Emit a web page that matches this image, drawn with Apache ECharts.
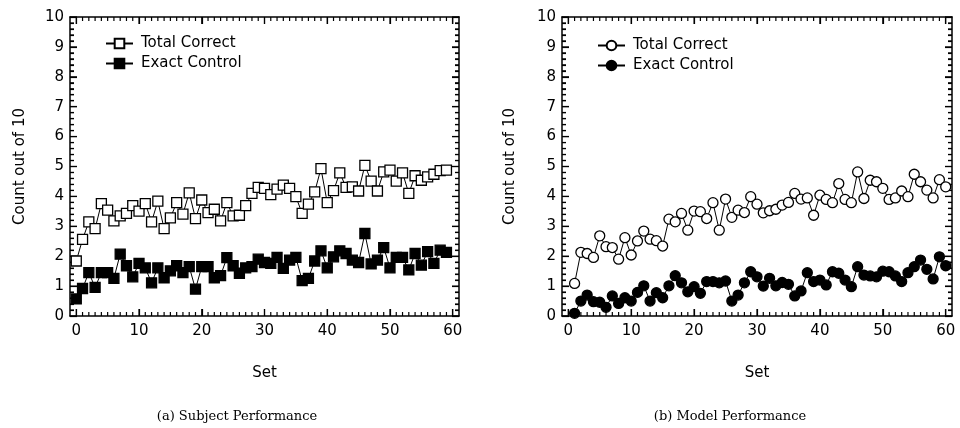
<!DOCTYPE html>
<html><head><meta charset="utf-8">
<script src="https://cdn.jsdelivr.net/npm/echarts@6/dist/echarts.min.js"></script>
<style>html,body{margin:0;padding:0;background:#fff}#c{width:960px;height:428px}</style>
</head><body><div id="c"></div>
<script>
const leftSets = [0,1,2,3,4,5,6,7,8,9,10,11,12,13,14,15,16,17,18,19,20,21,22,23,24,25,26,27,28,29,30,31,32,33,34,35,36,37,38,39,40,41,42,43,44,45,46,47,48,49,50,51,52,53,54,55,56,57,58,59];
const leftTotal = [1.84,2.56,3.15,2.92,3.76,3.54,3.18,3.35,3.43,3.69,
  3.51,3.76,3.15,3.84,2.92,3.28,3.79,3.41,4.12,3.26,
  3.88,3.46,3.57,3.18,3.79,3.35,3.37,3.69,4.10,4.30,
  4.27,4.06,4.24,4.38,4.27,3.99,3.43,3.74,4.15,4.93,
  3.79,4.19,4.79,4.30,4.32,4.18,5.04,4.51,4.18,4.82,
  4.88,4.51,4.79,4.10,4.69,4.54,4.65,4.74,4.86,4.88];
const leftExact = [0.57,0.92,1.45,0.96,1.45,1.45,1.26,2.07,1.68,1.31,
  1.76,1.61,1.11,1.61,1.28,1.51,1.68,1.45,1.65,0.90,
  1.65,1.65,1.28,1.35,1.95,1.68,1.43,1.61,1.65,1.90,
  1.79,1.76,1.96,1.59,1.87,1.96,1.18,1.26,1.84,2.18,
  1.61,1.98,2.18,2.09,1.87,1.79,2.76,1.74,1.87,2.29,
  1.61,1.96,1.96,1.54,2.09,1.70,2.15,1.76,2.20,2.13];
const rightSets = [1,2,3,4,5,6,7,8,9,10,11,12,13,14,15,16,17,18,19,20,21,22,23,24,25,26,27,28,29,30,31,32,33,34,35,36,37,38,39,40,41,42,43,44,45,46,47,48,49,50,51,52,53,54,55,56,57,58,59,60];
const rightTotal = [1.09,2.13,2.09,1.96,2.68,2.32,2.29,1.90,2.62,2.04,
  2.51,2.84,2.57,2.52,2.34,3.24,3.15,3.43,2.87,3.51,
  3.49,3.26,3.79,2.87,3.91,3.30,3.54,3.46,3.99,3.74,
  3.45,3.52,3.57,3.71,3.80,4.10,3.91,3.95,3.37,4.04,
  3.90,3.79,4.43,3.90,3.79,4.82,3.93,4.54,4.49,4.27,
  3.90,3.95,4.18,3.99,4.74,4.49,4.21,3.95,4.56,4.32];
const rightExact = [0.09,0.50,0.70,0.48,0.46,0.29,0.67,0.42,0.61,0.50,
  0.79,1.01,0.50,0.78,0.61,1.01,1.35,1.11,0.81,0.98,
  0.76,1.15,1.15,1.11,1.17,0.50,0.70,1.11,1.48,1.31,
  1.00,1.26,1.01,1.12,1.06,0.67,0.84,1.45,1.15,1.20,
  1.04,1.48,1.43,1.20,0.98,1.65,1.37,1.34,1.31,1.50,
  1.48,1.34,1.15,1.45,1.65,1.87,1.56,1.24,1.98,1.68];
const xTickLabels = [0,10,20,30,40,50,60];
const seriesNames = ['Total Correct','Exact Control'];
const captions = ['(a) Subject Performance','(b) Model Performance'];
const yName = 'Count out of 10';
const xName = 'Set';

const FONT = 'DejaVu Sans';
const BLACK = '#000';
const X_MIN = -1, X_MAX = 61, Y_MIN = 0, Y_MAX = 10;

const xTicks = [];
for (let i = 0; i <= 60; i++) xTicks.push([i, i % 10 === 0 ? 7 : 4]);
const yTicks = [];
for (let i = 0; i <= 50; i++) yTicks.push([i / 5, i % 5 === 0 ? 7 : 4]);

function frameLine() { return {show:true, onZero:false, lineStyle:{color:BLACK, width:1.5}}; }
function xMajorTick() { return {show:true, inside:true, length:7, customValues:xTickLabels.slice(), lineStyle:{color:BLACK, width:1.2}}; }

function xAxes(g) {
  return [
    {type:'value', gridIndex:g, position:'bottom', min:X_MIN, max:X_MAX, splitLine:{show:false},
      axisLine:frameLine(), axisTick:xMajorTick(),
      axisLabel:{show:true, customValues:xTickLabels.slice(), color:BLACK, fontFamily:FONT, fontSize:15, margin:8},
      name:xName, nameLocation:'middle', nameGap:50,
      nameTextStyle:{color:BLACK, fontFamily:FONT, fontSize:15}},
    {type:'value', gridIndex:g, position:'top', min:X_MIN, max:X_MAX, splitLine:{show:false},
      axisLine:frameLine(), axisTick:xMajorTick(), axisLabel:{show:false}}
  ];
}
function yAxis(g, pos, gap) {
  const a = {type:'value', gridIndex:g, position:pos, min:Y_MIN, max:Y_MAX, interval:1, splitLine:{show:false},
    axisLine:frameLine(),
    axisTick:{show:true, inside:true, length:7, lineStyle:{color:BLACK, width:1.2}},
    minorTick:{show:true, splitNumber:5, length:4, lineStyle:{color:BLACK, width:1.2}}};
  if (pos === 'left') {
    a.axisLabel = {show:true, color:BLACK, fontFamily:FONT, fontSize:15, margin:6};
    a.name = yName; a.nameLocation = 'middle'; a.nameGap = gap;
    a.nameTextStyle = {color:BLACK, fontFamily:FONT, fontSize:15};
  } else {
    a.axisLabel = {show:false};
  }
  return a;
}

function tickSeries(xi, yi, ticks, isX) {
  return {
    type:'custom', name:'ticks' + xi + (isX ? 'x' : 'y'), xAxisIndex:xi, yAxisIndex:yi,
    silent:true, z:1, clip:false, data:ticks,
    renderItem: function (params, api) {
      const v = api.value(0), len = api.value(1);
      const style = {stroke:BLACK, lineWidth:1.2};
      if (isX) {
        const a = api.coord([v, Y_MIN]), b = api.coord([v, Y_MAX]);
        return {type:'group', children:[
          {type:'line', shape:{x1:a[0], y1:a[1], x2:a[0], y2:a[1] - len}, style:style},
          {type:'line', shape:{x1:b[0], y1:b[1], x2:b[0], y2:b[1] + len}, style:style}
        ]};
      }
      const a = api.coord([X_MIN, v]), b = api.coord([X_MAX, v]);
      return {type:'group', children:[
        {type:'line', shape:{x1:a[0], y1:a[1], x2:a[0] + len, y2:a[1]}, style:style},
        {type:'line', shape:{x1:b[0], y1:b[1], x2:b[0] - len, y2:b[1]}, style:style}
      ]};
    }
  };
}

function lineSeries(name, sets, vals, xi, yi, symbol, filled) {
  return {
    type:'line', name:name, xAxisIndex:xi, yAxisIndex:yi,
    data: sets.map((s, i) => [s, vals[i]]),
    symbol:symbol, symbolSize:10, showSymbol:true, showAllSymbol:true,
    lineStyle:{color:BLACK, width:1},
    itemStyle:{color: filled ? BLACK : '#fff', borderColor:BLACK, borderWidth:1.3},
    z: filled ? 2 : 3
  };
}

const chart = echarts.init(document.getElementById('c'));
chart.setOption({
  animation:false,
  grid:[
    {left:70, top:17, width:389, height:299},
    {left:562, top:17, width:390, height:299}
  ],
  xAxis: xAxes(0).concat(xAxes(1)),
  yAxis: [yAxis(0, 'left', 42), yAxis(0, 'right', 0), yAxis(1, 'left', 44), yAxis(1, 'right', 0)],
  legend:[
    {orient:'vertical', left:100, top:31, itemWidth:27, itemHeight:12, itemGap:5, selectedMode:false,
      data:[seriesNames[0], seriesNames[1]],
      textStyle:{color:BLACK, fontFamily:FONT, fontSize:15, lineHeight:15, padding:[0,0,0,3]}},
    {orient:'vertical', left:592, top:33, itemWidth:27, itemHeight:12, itemGap:5, selectedMode:false,
      data:['Model ' + seriesNames[0], 'Model ' + seriesNames[1]],
      formatter: n => n.replace('Model ', ''),
      textStyle:{color:BLACK, fontFamily:FONT, fontSize:15, lineHeight:15, padding:[0,0,0,3]}}
  ],
  series:[
    tickSeries(0, 0, xTicks, true),
    tickSeries(0, 0, yTicks, false),
    tickSeries(2, 2, xTicks, true),
    tickSeries(2, 2, yTicks, false),
    lineSeries(seriesNames[0], leftSets, leftTotal, 0, 0, 'rect', false),
    lineSeries(seriesNames[1], leftSets, leftExact, 0, 0, 'rect', true),
    lineSeries('Model ' + seriesNames[0], rightSets, rightTotal, 2, 2, 'circle', false),
    lineSeries('Model ' + seriesNames[1], rightSets, rightExact, 2, 2, 'circle', true)
  ],
  graphic:[
    {type:'text', x:237, y:417, style:{text:captions[0], fontFamily:'DejaVu Serif', fontSize:13, fill:BLACK, align:'center', verticalAlign:'middle'}},
    {type:'text', x:730, y:417, style:{text:captions[1], fontFamily:'DejaVu Serif', fontSize:13, fill:BLACK, align:'center', verticalAlign:'middle'}}
  ]
});
</script>
</body></html>
